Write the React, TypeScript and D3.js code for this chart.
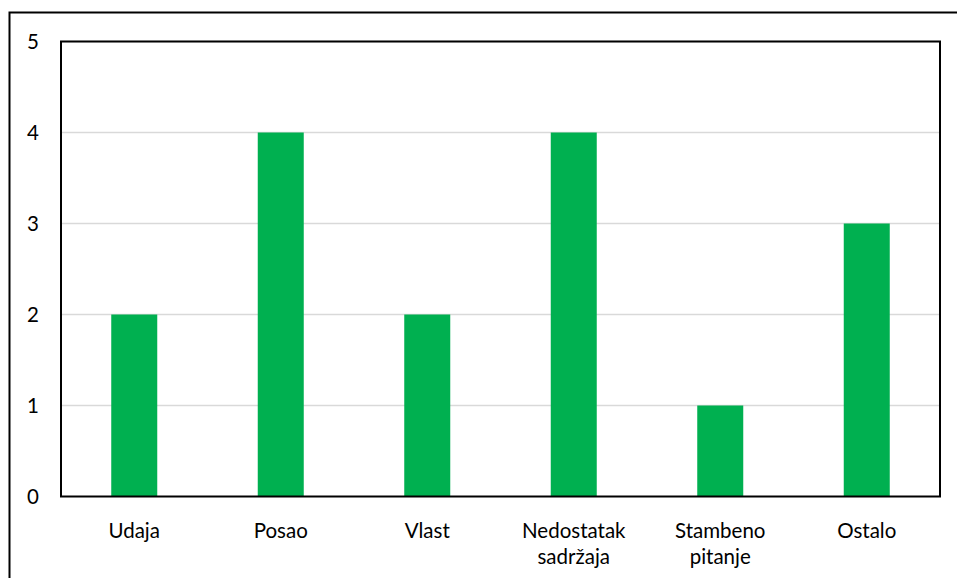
import React from "react";
import * as d3 from "d3";

const categories: string[][] = [
  ["Udaja"],
  ["Posao"],
  ["Vlast"],
  ["Nedostatak", "sadržaja"],
  ["Stambeno", "pitanje"],
  ["Ostalo"],
];
const values: number[] = [2, 4, 2, 4, 1, 3];
const yTicks: number[] = [0, 1, 2, 3, 4, 5];

export default function App() {
  const W = 957, H = 578;
  const left = 61, right = 940, top = 41.5, bottom = 496.5;
  const x = d3.scaleBand<number>().domain(d3.range(values.length)).range([left, right]).paddingInner(0.686).paddingOuter(0.343);
  const y = d3.scaleLinear().domain([0, 5]).range([bottom, top]);
  const font = "Lato, 'Open Sans', sans-serif";
  return (
    <svg width={W} height={H} style={{ position: "absolute", left: 0, top: 0 }}>
      <rect x={0} y={0} width={W} height={H} fill="#fff" />
      <path d={`M9.5,${H} V12.5 H${W}`} fill="none" stroke="#000" strokeWidth={2} />
      {yTicks.map((t) => (
        <g key={t}>
          {t > 0 && <line x1={left} x2={right} y1={y(t)} y2={y(t)} stroke="#D9D9D9" strokeWidth={1.5} />}
          <text x={33} y={y(t)} dy="0.36em" textAnchor="middle" fontFamily={font} fontSize={20.5} fill="#000">{t}</text>
        </g>
      ))}
      {values.map((v, i) => (
        <rect key={i} x={x(i)} y={y(v)} width={x.bandwidth()} height={bottom - y(v)} fill="#00B050" />
      ))}
      <rect x={left} y={top} width={right - left} height={bottom - top} fill="none" stroke="#000" strokeWidth={2} />
      {categories.map((lines, i) => (
        <text key={i} x={(x(i) as number) + x.bandwidth() / 2} y={538} textAnchor="middle" fontFamily={font} fontSize={20.5} fill="#000">
          {lines.map((l, j) => (
            <tspan key={j} x={(x(i) as number) + x.bandwidth() / 2} dy={j === 0 ? 0 : 26}>{l}</tspan>
          ))}
        </text>
      ))}
    </svg>
  );
}
